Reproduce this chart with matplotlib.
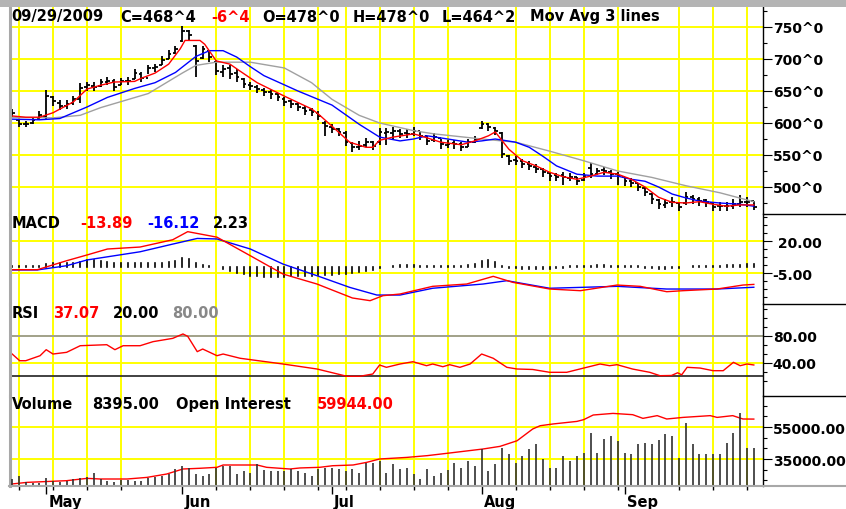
import numpy as np
import pandas as pd
import matplotlib
matplotlib.use('Agg')
import matplotlib.pyplot as plt
from matplotlib.lines import Line2D
from matplotlib.patches import Rectangle

W, H = 846, 510

# trading days 24 Apr 2009 .. 29 Sep 2009
holidays = ['2009-05-25', '2009-07-03', '2009-09-07']
dates = pd.bdate_range('2009-04-24', '2009-09-29')
dates = dates[~dates.isin(pd.to_datetime(holidays))]
month_names = ['May', 'Jun', 'Jul', 'Aug', 'Sep']

opens = [614, 604, 598, 600, 606, 610, 640, 632, 626, 631,
         638, 656, 658, 658, 664, 665, 660, 665, 668, 677,
         671, 686, 690, 700, 709, 728, 743, 720, 702, 712,
         696, 680, 686, 678, 668, 660, 657, 652, 648, 645,
         638, 634, 630, 624, 620, 616, 600, 594, 590, 585,
         568, 562, 565, 570, 570, 585, 585, 588, 584, 583,
         587, 579, 573, 577, 566, 568, 567, 563, 570, 592,
         598, 592, 584, 548, 542, 540, 536, 532, 528, 522,
         518, 518, 514, 515, 511, 530, 521, 526, 524, 520,
         515, 510, 506, 498, 489, 480, 472, 476, 475, 475,
         484, 482, 479, 475, 470, 471, 470, 474, 477, 478]
highs = [622, 606, 603, 609, 618, 652, 642, 636, 636, 642,
         662, 664, 664, 668, 672, 668, 670, 672, 684, 680,
         690, 692, 704, 714, 720, 752, 746, 722, 720, 712,
         698, 690, 690, 685, 670, 664, 660, 654, 652, 647,
         640, 636, 632, 626, 624, 618, 603, 598, 592, 588,
         570, 572, 576, 572, 592, 592, 594, 590, 590, 594,
         588, 580, 584, 575, 574, 574, 570, 575, 580, 603,
         600, 594, 586, 550, 548, 544, 540, 536, 530, 524,
         522, 524, 522, 516, 522, 538, 530, 531, 526, 524,
         516, 514, 507, 500, 490, 482, 481, 484, 477, 492,
         487, 485, 482, 476, 477, 477, 481, 488, 484, 478]
lows = [610, 594, 593, 598, 604, 606, 626, 620, 622, 628,
        632, 650, 650, 656, 660, 650, 659, 660, 668, 664,
        676, 680, 690, 700, 708, 726, 730, 672, 700, 696,
        675, 672, 668, 664, 655, 652, 647, 642, 638, 634,
        627, 624, 619, 613, 611, 604, 580, 584, 580, 564,
        555, 558, 563, 558, 566, 566, 574, 576, 576, 579,
        573, 565, 571, 560, 561, 560, 556, 563, 568, 590,
        588, 582, 546, 535, 535, 529, 526, 522, 516, 510,
        510, 503, 509, 503, 510, 514, 518, 518, 513, 503,
        502, 500, 494, 486, 474, 466, 467, 468, 462, 472,
        474, 471, 469, 462, 463, 463, 466, 468, 469, 464.25]
closes = [615, 599, 598, 605, 612, 642, 634, 627, 630, 637,
          655, 659, 657, 664, 666, 657, 666, 666, 678, 670,
          686, 687, 698, 708, 716, 744, 738, 697, 716, 703,
          681, 684, 677, 672, 661, 658, 653, 648, 645, 640,
          633, 630, 625, 619, 617, 611, 595, 590, 586, 570,
          562, 564, 570, 564, 586, 586, 588, 583, 583, 588,
          580, 572, 578, 567, 567, 567, 562, 570, 575, 598,
          594, 588, 552, 541, 541, 536, 533, 528, 523, 517,
          516, 516, 516, 509, 517, 520, 525, 525, 520, 517,
          509, 507, 500, 492, 481, 473, 475, 476, 469, 484,
          481, 478, 476, 469, 470, 470, 473, 476, 476, 468.5]

# moving averages (bar index, price)
ma_fast_x = [0, 2, 4, 6, 9, 11, 13, 15, 18, 19, 21, 23, 24.7, 25.4, 27.6, 28.3, 29.6, 30, 32, 33.5,
             36, 40, 44, 45, 47, 49.6, 52, 53, 54, 56, 59, 60, 63, 66, 68, 70, 71, 73, 75, 77,
             79, 81, 83, 85, 87, 89, 91, 93, 95, 97, 99, 101, 103, 105, 107, 109]
ma_fast = [611, 609, 609, 616, 633, 653, 659, 664, 665, 670, 678, 692, 716, 729, 729, 723, 703, 697, 692, 681,
           663, 642, 622, 614, 595, 570, 562, 562, 573, 578, 583, 580, 570, 566, 572, 580, 586, 559, 541, 533,
           523, 516, 512, 517, 523, 520, 512, 500, 484, 476, 475, 477, 473, 470, 472, 472]
ma_mid_x = [0, 4, 7, 11, 14, 18, 21, 24, 27, 29, 31, 33, 35, 37, 42, 47, 51, 54, 57, 59,
            61, 64, 67, 69, 71, 74, 76, 78, 80, 83, 86, 89, 91, 93, 95, 97, 99, 101, 104, 107, 109]
ma_mid = [606, 605, 607, 625, 640, 654, 663, 679, 704, 713, 713, 703, 688, 674, 650, 628, 598, 578, 572, 575,
          580, 575, 570, 572, 575, 570, 562, 548, 533, 520, 517, 517, 512, 509, 500, 489, 483, 478, 475, 473, 470]
ma_slow_x = [0, 6, 10, 13, 20, 25, 27, 30, 35, 40, 44, 47, 51, 54, 59, 62, 69, 74, 79, 84,
             89, 94, 99, 104, 109]
ma_slow = [609, 608, 612, 624, 646, 678, 690, 695, 695, 686, 663, 637, 612, 600, 588, 583, 575, 570, 556, 541,
           525, 515, 502, 491, 477]

# MACD
macd_x = [0, 3.7, 8, 11, 14, 18.8, 23.6, 25.8, 30.1, 35, 39.8, 44.8, 50, 52.6, 54.5, 57, 61.8, 66.8, 70.7,
          73.6, 79, 83.5, 88.9, 92.3, 96.2, 98.6, 103.6, 107.4, 109]
macd = [-2.4, -2.4, 4.6, 9.1, 13.75, 15.3, 21, 27.3, 23, 8.5, -5.8, -13.6, -24.5, -26.6, -22.7, -21.4, -15.4,
        -13.6, -7.6, -12.3, -17.5, -18.8, -14.4, -15.4, -19.6, -18.8, -17.5, -14.4, -13.89]
signal_x = [0, 3.7, 8, 11, 18.8, 23.6, 27.2, 30.1, 35, 39.8, 44.8, 49.6, 53.6, 57, 61.8, 69.2, 72.7, 79,
            88.9, 96.2, 103.6, 109]
signal = [-2.6, -2.6, 0.7, 5.2, 11.6, 17.6, 22, 21.6, 13.75, 2, -7.1, -16.2, -22.2, -22.2, -16.9, -13.6,
          -11, -16.9, -15.4, -17.5, -17.5, -16.12]
hist = [0.3, 0.2, 0.2, 0.3, 0.5, 2.1, 2.6, 2.6, 3.1, 3.1,
        3.9, 5.2, 5.2, 4.7, 3.9, 3.1, 2.6, 2.6, 2.6, 2.6,
        2.6, 2.6, 3.1, 3.9, 4.7, 6.5, 5.7, 3.1, 1.3, 0.8,
        -0.5, -1.5, -3.5, -5.0, -6.0, -7.0, -7.5, -7.8, -7.8, -7.8,
        -7.8, -7.5, -7.5, -7.0, -7.0, -6.5, -6.5, -6.5, -6.0, -5.5,
        -5.0, -4.5, -3.5, -2.5, -0.8, -0.5, 0.5, 1.0, 1.2, 1.0,
        0.8, 0.6, 0.6, 0.5, 0.5, 0.6, 0.8, 1.2, 2.0, 4.5,
        5.0, 3.5, 0.3, -1.0, -1.2, -1.5, -1.8, -2.0, -1.8, -1.5,
        -1.2, -0.8, 0.2, 0.3, 0.3, 0.8, 1.0, 1.0, 0.8, 0.6,
        0.5, 0.3, 0.2, -0.8, -1.2, -1.5, -1.5, -1.2, -1.0, -0.5,
        0.2, 0.3, 0.3, 0.6, 0.8, 1.0, 1.2, 1.5, 2.0, 2.23]

# RSI
rsi_x = [0, 1.1, 2, 4.1, 5, 6, 8, 10, 13.9, 15.1, 16.3, 18.8, 20.7, 23.6, 25.1, 25.8, 27.2, 28, 30.1, 31,
         33.5, 39.8, 44.8, 49.2, 51.1, 53, 54, 55, 57, 58.9, 60.9, 61.8, 63.3, 64.3, 65.8, 67.3, 69, 70.7,
         72.7, 74.2, 76.5, 79, 81.5, 83, 86.4, 87.8, 88.9, 91.2, 93.7, 95.2, 96.9, 97.8, 98.4, 99.2, 101.1,
         103, 104.5, 106, 107, 108, 109]
rsi = [53.3, 43.4, 43.4, 50.8, 59.7, 53.3, 55.8, 65.6, 67.1, 59.7, 65.6, 65.6, 71.6, 76.5, 83, 79.5, 56.8,
       60.7, 50.8, 53.3, 47, 38.5, 31.1, 20.3, 20.3, 23.7, 37, 33.6, 38.5, 41.9, 36, 38.5, 34.5, 37.5, 33.6,
       38.5, 53.3, 47, 33.6, 31.1, 30.4, 26.2, 26.2, 30, 38.5, 36, 37.5, 31, 26.2, 21.2, 21.5, 25.5, 22.5,
       33.6, 32.5, 28.6, 28.6, 41, 36, 38.5, 37.07]

# volume and open interest
volume = [1470, 2210, 880, 740, 740, 1840, 1110, 880, 1110, 1470,
          1840, 2060, 2950, 1470, 1110, 880, 1330, 1330, 1110, 1110,
          1840, 2060, 2210, 2580, 3690, 4420, 4050, 2580, 2210, 2580,
          4050, 4420, 4420, 2580, 3320, 2950, 4790, 3540, 3320, 3320,
          3320, 3690, 3320, 2950, 2210, 3690, 4050, 4050, 3690, 3320,
          3690, 2950, 5160, 5160, 5530, 2950, 4790, 3690, 4050, 2580,
          1620, 3690, 2210, 2950, 3540, 5160, 4050, 5530, 4420, 8110,
          3320, 4790, 8480, 7000, 5160, 6630, 8110, 9210, 5900, 4050,
          4050, 6630, 5530, 6630, 7370, 11790, 7370, 10320, 11060, 9950,
          7370, 7000, 9210, 9430, 9210, 10170, 11420, 11060, 6260, 14000,
          9210, 7000, 7000, 7000, 7000, 9580, 11790, 16210, 8480, 8395]
oi_x = [0, 2.2, 8, 11, 12.9, 16.9, 19.8, 22.7, 25.1, 27.6, 30.1, 31, 36, 37.4, 40.8, 42.3, 45.2, 47.1, 50.1,
        52.1, 54, 58, 61, 64.3, 69.2, 71.7, 74.2, 76.5, 77.6, 79.5, 83, 84, 85.4, 88.3, 91.2, 92.7, 94.8,
        96.2, 98.6, 102.6, 103.6, 105.9, 107.4, 109]
oi = [19400, 20400, 21450, 22900, 22500, 22500, 23500, 25600, 28750, 29200, 29800, 31250, 31250, 29800,
      28750, 29400, 29800, 30800, 31250, 32900, 35000, 36000, 37100, 38750, 41250, 42900, 46400, 53750,
      55800, 56900, 58500, 59600, 62500, 63500, 62700, 60400, 62100, 60000, 61000, 62100, 61000, 62100,
      60000, 59944]

x = np.arange(len(dates))
mondays = x[dates.weekday == 0]
month_first = [x[dates.month == m][0] for m in range(5, 10)]

RED = '#ff0000'
BLUE = '#0000ff'
YELLOW = '#ffff00'
plt.rcParams['font.family'] = 'DejaVu Sans'
plt.rcParams['font.weight'] = 'bold'

fig = plt.figure(figsize=(W / 100, H / 100), dpi=100)
fig.patch.set_facecolor('white')


def panel(top, bottom):
    return fig.add_axes([10 / W, 1 - bottom / H, 753 / W, (bottom - top) / H])


def ptext(px, py, s, color='k', size=10.5):
    fig.text(px / W, 1 - py / H, s, color=color, fontsize=size, fontweight='bold',
             ha='left', va='center')


ax_p = panel(8, 215)
ax_m = panel(215, 305)
ax_r = panel(305, 397)
ax_v = panel(397, 487)

# volume bars get their own hidden scale inside the bottom panel
ax_vol = ax_v.twinx()
ax_vol.set_ylim(0, 19900)
ax_vol.set_xlim(-0.32, 110.35)
ax_vol.axis('off')

panels = [
    (ax_p, (457.8, 781.25), [500, 550, 600, 650, 700, 750],
     ['500^0', '550^0', '600^0', '650^0', '700^0', '750^0'], np.arange(475, 780, 50)),
    (ax_m, (-29.2, 41.1), [-5, 20], ['-5.00', ' 20.00'],
     [v for v in np.arange(-23.75, 41, 6.25) if abs(v + 5) > 0.1 and abs(v - 20) > 0.1]),
    (ax_r, (-8.9, 127.4), [40, 80], ['40.00', '80.00'],
     [v for v in np.arange(40 / 3, 127, 40 / 3) if abs(v - 40) > 0.1 and abs(v - 80) > 0.1]),
    (ax_v, (18125, 74375), [35000, 55000], ['35000.00', '55000.00'],
     [v for v in np.arange(35000 - 2 * 20000 / 3, 74000, 20000 / 3)
      if abs(v - 35000) > 1 and abs(v - 55000) > 1]),
]
for ax, ylim, ticks, labels, minors in panels:
    ax.set_xlim(-0.32, 110.35)
    ax.set_ylim(*ylim)
    ax.set_axisbelow(True)
    ax.yaxis.tick_right()
    ax.yaxis.set_label_position('right')
    ax.set_yticks(ticks, labels)
    ax.set_yticks(minors, minor=True)
    ax.tick_params(axis='y', which='major', direction='out', length=6.5, width=0.8, pad=0.5,
                   labelsize=10, colors='k', left=False, labelleft=False, right=True, labelright=True)
    ax.tick_params(axis='y', which='minor', direction='out', length=3, width=0.8,
                   left=False, right=True)
    ax.set_xticks(month_first)
    ax.set_xticks(mondays, minor=True)
    ax.grid(axis='x', which='minor', color=YELLOW, lw=1.4)
    ax.grid(axis='y', which='major', color=YELLOW, lw=1.4)
    ax.tick_params(axis='x', which='both', length=0, labelbottom=False)
    for side in ['top', 'bottom']:
        ax.spines[side].set_visible(False)
    ax.spines['left'].set_color('#a8a8a8')
    ax.spines['left'].set_linewidth(2.2)
    ax.spines['right'].set_color('k')
    ax.spines['right'].set_linewidth(1.0)

# price panel: OHLC bars and moving averages
ax_p.vlines(x, lows, highs, color='k', lw=1.3)
ax_p.hlines(opens, x - 0.4, x, color='k', lw=1.3)
ax_p.hlines(closes, x, x + 0.4, color='k', lw=1.3)
ax_p.plot(ma_slow_x, ma_slow, color='#a0a0a0', lw=1.0)
ax_p.plot(ma_mid_x, ma_mid, color=BLUE, lw=1.0)
ax_p.plot(ma_fast_x, ma_fast, color=RED, lw=1.0)

# MACD panel
ax_m.vlines(x, 0, hist, color='k', lw=1.2, capstyle='projecting')
ax_m.plot(signal_x, signal, color=BLUE, lw=1.0)
ax_m.plot(macd_x, macd, color=RED, lw=1.0)

# RSI panel
ax_r.axhline(80, color='#9a9a9a', lw=1.3)
ax_r.axhline(20, color='#333333', lw=1.3)
ax_r.plot(rsi_x, rsi, color=RED, lw=1.0)

# volume and open interest
ax_vol.vlines(x, 0, volume, color='#303030', lw=1.2)
ax_v.plot(oi_x, oi, color=RED, lw=1.0, zorder=3)

ax_v.tick_params(axis='x', which='major', length=6, width=1.0, color='k')
ax_v.tick_params(axis='x', which='minor', length=3, width=1.0, color='k')
for m, name in zip(month_first, month_names):
    ax_v.annotate(name, xy=(m, 0), xycoords=('data', 'axes fraction'), xytext=(1.5, -5.5),
                  textcoords='offset points', ha='left', va='top', fontsize=10.5, fontweight='bold')

# frame pieces outside the plotting area
fig.add_artist(Rectangle((0, 1 - 8 / H), 1, 8 / H, transform=fig.transFigure,
                         facecolor='#b4b4b4', edgecolor='none'))
for py in [215, 305, 397]:
    fig.add_artist(Line2D([763 / W, 1], [1 - py / H] * 2, color='k', lw=1.0))
fig.add_artist(Line2D([9 / W, 1], [1 - 487 / H] * 2, color='#a8a8a8', lw=1.5))

ptext(11, 17, '09/29/2009')
ptext(120, 17, 'C=468^4')
ptext(211, 17, '-6^4', RED)
ptext(262, 17, 'O=478^0')
ptext(353, 17, 'H=478^0')
ptext(442, 17, 'L=464^2')
ptext(530, 17, 'Mov Avg 3 lines')

ptext(12, 224, 'MACD')
ptext(80, 224, '-13.89', RED)
ptext(147, 224, '-16.12', BLUE)
ptext(213, 224, '2.23')

ptext(12, 314, 'RSI')
ptext(53, 314, '37.07', RED)
ptext(113, 314, '20.00')
ptext(172, 314, '80.00', '#888888')

ptext(12, 405, 'Volume')
ptext(92, 405, '8395.00')
ptext(176, 405, 'Open Interest')
ptext(317, 405, '59944.00', RED)

fig.savefig('out.png', dpi=100)
